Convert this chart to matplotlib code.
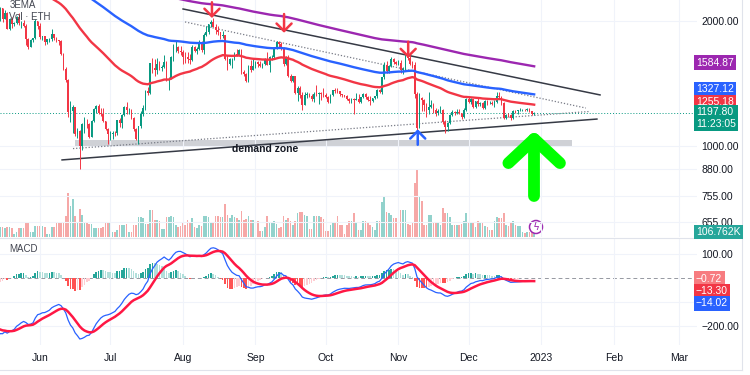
import numpy as np
import matplotlib
matplotlib.use("Agg")
import matplotlib.pyplot as plt
import matplotlib.dates as mdates
from matplotlib.ticker import FuncFormatter, NullLocator, NullFormatter
from matplotlib.patches import Ellipse
from matplotlib.lines import Line2D

plt.rcParams['font.family'] = ['Liberation Sans', 'DejaVu Sans']

# ETH daily candles 2022-05-14 .. 2022-12-29, open = previous close
first_day = '2022-05-14'
first_open = 2010
close = [
    2055, 2145, 2023, 2091, 1914, 2018, 1962, 1974, 2043, 1973, 1979, 1945, 1803, 1725, 1794, 1813, 1996, 1942,  # May
    1823, 1834, 1776, 1802, 1806, 1859, 1814, 1793, 1789, 1666, 1530, 1437, 1207, 1209, 1236, 1067, 1087, 996,
    1127, 1128, 1127, 1052, 1144, 1226, 1243, 1199, 1193, 1145, 1099, 1067,  # Jun
    1067, 1074, 1073, 1150, 1134, 1187, 1238, 1216, 1218, 1168, 1097, 1039, 1113, 1191, 1233, 1354, 1339, 1582,
    1542, 1521, 1577, 1537, 1551, 1594, 1439, 1450, 1637, 1725, 1733, 1695, 1679,  # Jul
    1634, 1632, 1618, 1607, 1733, 1693, 1705, 1778, 1702, 1852, 1880, 1959, 1981, 1935, 1901, 1876, 1834, 1847,
    1613, 1572, 1617, 1620, 1664, 1656, 1698, 1507, 1491, 1431, 1553, 1524, 1554,  # Aug
    1586, 1577, 1557, 1577, 1619, 1562, 1631, 1635, 1717, 1778, 1762, 1715, 1573, 1637, 1472, 1433, 1469, 1336,
    1377, 1324, 1252, 1327, 1328, 1317, 1294, 1335, 1330, 1336, 1335, 1328,  # Sep
    1311, 1276, 1323, 1362, 1352, 1351, 1331, 1322, 1317, 1292, 1281, 1296, 1289, 1297, 1275, 1307, 1332, 1310,
    1286, 1283, 1299, 1315, 1364, 1344, 1461, 1566, 1514, 1555, 1619, 1590, 1572,  # Oct
    1580, 1519, 1531, 1645, 1627, 1572, 1568, 1334, 1100, 1299, 1288, 1256, 1221, 1242, 1252, 1217, 1201, 1212,
    1219, 1142, 1109, 1136, 1184, 1203, 1199, 1206, 1196, 1170, 1217, 1297,  # Nov
    1275, 1294, 1241, 1280, 1259, 1270, 1231, 1281, 1264, 1265, 1263, 1275, 1319, 1309, 1266, 1166, 1186, 1184,
    1167, 1215, 1211, 1218, 1218, 1221, 1219, 1227, 1212, 1190, 1197.8,  # Dec
]
high = [
    2070, 2155, 2145, 2120, 2100, 2025, 2045, 1990, 2055, 2085, 2000, 2010, 1965, 1815, 1805, 1820, 2015, 2000,
    1970, 1840, 1840, 1810, 1820, 1915, 1860, 1830, 1800, 1795, 1670, 1545, 1450, 1280, 1250, 1240, 1100, 1090,
    1135, 1170, 1160, 1135, 1150, 1230, 1250, 1260, 1235, 1230, 1145, 1100,
    1085, 1085, 1085, 1155, 1165, 1195, 1245, 1275, 1235, 1225, 1170, 1100, 1115, 1210, 1250, 1360, 1385, 1585,
    1625, 1620, 1630, 1600, 1560, 1650, 1600, 1460, 1645, 1760, 1785, 1740, 1740,
    1700, 1680, 1680, 1665, 1750, 1740, 1725, 1800, 1790, 1870, 1940, 1965, 2010, 2030, 1960, 1945, 1880, 1890,
    1850, 1650, 1630, 1630, 1680, 1710, 1710, 1705, 1525, 1500, 1560, 1605, 1615,
    1600, 1600, 1595, 1580, 1625, 1685, 1645, 1655, 1730, 1790, 1785, 1775, 1725, 1645, 1650, 1490, 1475, 1475,
    1395, 1390, 1345, 1350, 1345, 1340, 1330, 1345, 1400, 1350, 1345, 1375,
    1340, 1315, 1330, 1365, 1380, 1380, 1355, 1335, 1325, 1325, 1300, 1300, 1300, 1340, 1330, 1310, 1340, 1340,
    1315, 1315, 1305, 1320, 1370, 1370, 1465, 1590, 1595, 1560, 1635, 1625, 1600,
    1605, 1610, 1550, 1660, 1680, 1650, 1600, 1590, 1350, 1340, 1310, 1295, 1270, 1345, 1290, 1265, 1235, 1225,
    1245, 1225, 1150, 1140, 1190, 1220, 1215, 1228, 1225, 1200, 1230, 1305,
    1310, 1300, 1295, 1282, 1300, 1275, 1275, 1285, 1290, 1280, 1280, 1285, 1345, 1350, 1320, 1275, 1190, 1200,
    1195, 1220, 1220, 1220, 1230, 1225, 1225, 1235, 1230, 1215, 1205,
]
low = [
    1950, 2000, 1990, 2015, 1905, 1900, 1920, 1940, 1960, 1955, 1925, 1930, 1750, 1705, 1725, 1775, 1810, 1915,
    1805, 1795, 1745, 1760, 1780, 1790, 1800, 1780, 1745, 1655, 1520, 1425, 1175, 1140, 1070, 1055, 1045, 880,
    975, 1070, 1100, 1045, 1050, 1140, 1200, 1190, 1180, 1140, 1090, 1010,
    1030, 1040, 1055, 1060, 1110, 1100, 1180, 1190, 1195, 1160, 1085, 1030, 1010, 1100, 1180, 1220, 1325, 1330,
    1500, 1470, 1490, 1520, 1510, 1540, 1430, 1360, 1450, 1600, 1680, 1675, 1655,
    1575, 1580, 1585, 1575, 1600, 1680, 1665, 1700, 1685, 1660, 1840, 1860, 1930, 1930, 1860, 1845, 1810, 1820,
    1605, 1525, 1560, 1540, 1605, 1640, 1650, 1490, 1470, 1425, 1420, 1505, 1520,
    1540, 1545, 1550, 1540, 1565, 1560, 1505, 1610, 1630, 1710, 1720, 1700, 1555, 1560, 1460, 1420, 1425, 1330,
    1280, 1300, 1220, 1250, 1305, 1310, 1280, 1275, 1320, 1260, 1290, 1310,
    1305, 1270, 1265, 1320, 1340, 1340, 1320, 1310, 1310, 1285, 1270, 1270, 1190, 1285, 1265, 1270, 1300, 1295,
    1280, 1255, 1275, 1295, 1305, 1340, 1335, 1450, 1495, 1500, 1550, 1575, 1560,
    1560, 1500, 1490, 1525, 1610, 1560, 1540, 1305, 1075, 1100, 1215, 1215, 1175, 1195, 1230, 1200, 1180, 1185,
    1200, 1130, 1075, 1085, 1130, 1180, 1185, 1190, 1190, 1160, 1165, 1215,
    1265, 1260, 1235, 1235, 1245, 1245, 1225, 1225, 1255, 1260, 1255, 1240, 1270, 1300, 1255, 1160, 1160, 1175,
    1155, 1160, 1200, 1195, 1210, 1215, 1215, 1215, 1205, 1185, 1185,
]
volume_k = [
    200, 195, 200, 190, 200, 195, 180, 70, 100, 190, 185, 190, 310, 310, 100, 100, 230, 230,
    230, 230, 200, 70, 70, 200, 200, 290, 290, 290, 300, 420, 880, 625, 760, 420, 310, 555,
    450, 280, 280, 270, 270, 180, 185, 180, 190, 200, 310, 310,
    310, 100, 100, 150, 250, 250, 250, 260, 100, 100, 240, 240, 400, 400, 380, 260, 260, 540,
    540, 350, 350, 330, 160, 160, 400, 400, 420, 400, 250, 200, 220,
    300, 250, 340, 300, 380, 200, 190, 250, 220, 430, 430, 400, 280, 280, 420, 420, 400, 410,
    670, 450, 380, 440, 400, 380, 350, 520, 350, 360, 420, 350, 340,
    340, 330, 120, 120, 200, 420, 300, 300, 330, 260, 180, 200, 420, 340, 380, 330, 250, 330,
    480, 500, 500, 450, 420, 170, 170, 430, 430, 420, 400, 360,
    120, 120, 240, 300, 290, 420, 250, 250, 70, 250, 330, 330, 490, 300, 150, 150, 330, 330,
    300, 250, 200, 150, 330, 330, 700, 800, 500, 480, 450, 380, 380,
    380, 540, 540, 540, 260, 240, 300, 1075, 1340, 830, 730, 240, 240, 450, 450, 300, 300, 280,
    240, 590, 480, 480, 400, 250, 250, 250, 250, 260, 330, 490,
    300, 300, 280, 200, 320, 300, 300, 230, 210, 150, 150, 330, 400, 380, 380, 490, 250, 220,
    280, 330, 250, 220, 220, 100, 90, 100, 110, 200, 106.762,
]

# indicator states just before the first candle
ema_seed = {50: 2850, 100: 3100, 200: 3200}
macd_seed = (2300, 2540, -204)  # ema12, ema26, signal

price_ticks = [655, 755, 880, 1000, 2000]
macd_ticks = [-200, 100]
month_ticks = ['2022-06-01', '2022-07-01', '2022-08-01', '2022-09-01', '2022-10-01',
               '2022-11-01', '2022-12-01', '2023-01-01', '2023-02-01', '2023-03-01']
month_labels = ['Jun', 'Jul', 'Aug', 'Sep', 'Oct', 'Nov', 'Dec', '2023', 'Feb', 'Mar']

# drawings on the chart: (date, price)
trend_solid = [(('2022-08-01T02', 2134), ('2023-01-26T03', 1325)),
               (('2022-06-10T10', 924), ('2023-01-24T19', 1159))]
trend_dotted = [(('2022-08-01T22', 1986), ('2023-01-20T02', 1232)),
                (('2022-06-15T02', 984), ('2023-01-21T19', 1209))]
demand_zone = ('2022-06-15T22', '2023-01-14T05', 990, 1030)
down_arrows = [('2022-08-13T10', 2215, 2030), ('2022-09-13T05', 2075, 1870), ('2022-11-05T05', 1780, 1625)]
up_arrow = ('2022-11-09T07', 1005, 1095)
green_arrow = [('2022-12-18', 908), ('2022-12-29', 1038), ('2023-01-09', 908)]
green_shaft_bottom = 758

GREEN, RED = '#089981', '#F23645'


def num(s):
    return mdates.date2num(np.datetime64(s))


def ema(values, seed, n):
    k = 2.0 / (n + 1)
    out, e = [], seed
    for v in values:
        e = e + k * (v - e)
        out.append(e)
    return np.array(out)


c = np.array(close, dtype=float)
o = np.concatenate([[first_open], c[:-1]])
h = np.maximum(np.array(high, dtype=float), np.maximum(o, c))
lo = np.minimum(np.array(low, dtype=float), np.minimum(o, c))
vol = np.array(volume_k, dtype=float)
dates = np.arange(np.datetime64(first_day), np.datetime64(first_day) + len(c))
x = mdates.date2num(dates)
up = c >= o
col = np.where(up, GREEN, RED)

macd = ema(c, macd_seed[0], 12) - ema(c, macd_seed[1], 26)
signal = ema(macd, macd_seed[2], 9)
hist = macd - signal
prev = np.concatenate([[hist[0]], hist[:-1]])
hcol = np.where(hist >= 0, np.where(hist >= prev, '#26A69A', '#B2DFDB'),
                np.where(hist < prev, '#FF5252', '#FFCDD2'))

W, H = 750, 375
fig = plt.figure(figsize=(7.5, 3.75), dpi=100)
ax = fig.add_axes([0, 1 - 237 / H, 697 / W, 237 / H])
axm = fig.add_axes([0, 1 - 345 / H, 697 / W, 107 / H], sharex=ax)
axv = ax.twinx()
ax.set_zorder(axv.get_zorder() + 1)
ax.patch.set_visible(False)

jun1 = num('2022-06-01')
ax.set_xlim(jun1 - 40 / 2.342, jun1 + 657 / 2.342)

# volume
axv.bar(x, vol, width=0.7, color=np.where(up, '#26A69A', '#EF5350'), alpha=0.5, lw=0)
axv.set_ylim(0, 237 * 20)
axv.axis('off')

# price pane
ax.set_yscale('log')
ax.set_ylim(602.6, 2243)
ax.set_yticks(price_ticks)
ax.yaxis.set_minor_locator(NullLocator())
ax.yaxis.set_minor_formatter(NullFormatter())
ax.yaxis.set_major_formatter(FuncFormatter(lambda v, p: f'{v:.2f}'))
ax.yaxis.tick_right()
ax.tick_params(axis='y', length=0, pad=3, labelsize=7.5, labelcolor='#131722')
ax.set_xticks([num(m) for m in month_ticks])
ax.tick_params(axis='x', length=0, labelbottom=False)
ax.grid(True, color='#f0f3fa', lw=0.8, zorder=0)
for s in ax.spines.values():
    s.set_visible(False)

z0, z1, zlo, zhi = demand_zone
ax.fill_between([num(z0), num(z1)], zlo, zhi, color='#cfd1d6', lw=0, zorder=1)
ax.text(num('2022-08-22'), 982, 'demand zone', fontsize=7.5, fontweight='bold',
        color='#131722', va='center', ha='left', zorder=6)

for (d0, p0), (d1, p1) in trend_solid:
    ax.plot([num(d0), num(d1)], [p0, p1], color='#363a45', lw=1.1, zorder=2)
for (d0, p0), (d1, p1) in trend_dotted:
    ax.plot([num(d0), num(d1)], [p0, p1], color='#787b86', lw=0.9, ls=(0, (1, 1.5)), zorder=2)

ax.axhline(c[-1], color=GREEN, lw=0.7, ls=(0, (1, 2)), zorder=2)

ax.vlines(x, lo, h, colors=col, lw=0.7, zorder=3)
body = np.maximum(np.abs(c - o), c * 0.002)
ax.bar(x, body, bottom=np.minimum(o, c), width=0.7, color=col, lw=0, zorder=4)

ax.plot(x, ema(c, ema_seed[50], 50), color='#F23645', lw=1.7, zorder=5)
ax.plot(x, ema(c, ema_seed[100], 100), color='#2962FF', lw=1.7, zorder=5)
ax.plot(x, ema(c, ema_seed[200], 200), color='#9C27B0', lw=1.7, zorder=5)

arrow_style = '->,head_length=0.45,head_width=0.45'
for d, p_tail, p_tip in down_arrows:
    ax.annotate('', xy=(num(d), p_tip), xytext=(num(d), p_tail), zorder=7,
                arrowprops=dict(arrowstyle=arrow_style, color='#F23645', lw=1.8,
                                mutation_scale=12, shrinkA=0, shrinkB=0))
d, p_tail, p_tip = up_arrow
ax.annotate('', xy=(num(d), p_tip), xytext=(num(d), p_tail), zorder=7,
            arrowprops=dict(arrowstyle=arrow_style, color='#2962FF', lw=1.8,
                            mutation_scale=12, shrinkA=0, shrinkB=0))

gx = [num(d) for d, p in green_arrow]
gy = [p for d, p in green_arrow]
ax.plot(gx, gy, color='#00FF00', lw=8.5, solid_capstyle='round', solid_joinstyle='round', zorder=7)
ax.plot([gx[1], gx[1]], [gy[1], green_shaft_bottom], color='#00FF00', lw=8.5,
        solid_capstyle='round', zorder=7)

# MACD pane
axm.bar(x, hist, width=0.7, color=hcol, lw=0, zorder=2)
axm.plot(x, macd, color='#2962FF', lw=0.9, zorder=3)
axm.plot(x, signal, color='#FF1744', lw=1.8, zorder=4)
axm.axhline(0, color='#9598a1', lw=0.7, ls=(0, (4, 3)), zorder=1)
axm.axhline(-100, color='#f0f3fa', lw=0.8, zorder=0)
axm.set_ylim(-280.8, 167)
axm.set_yticks(macd_ticks)
axm.yaxis.set_major_formatter(FuncFormatter(lambda v, p: f'{v:.2f}'.replace('-', '\u2212')))
axm.yaxis.tick_right()
axm.tick_params(axis='y', length=0, pad=3, labelsize=7.5, labelcolor='#131722')
axm.set_xticks([num(m) for m in month_ticks])
axm.set_xticklabels(month_labels)
axm.tick_params(axis='x', length=0, pad=6, labelsize=7.5, labelcolor='#131722')
axm.grid(True, color='#f0f3fa', lw=0.8, zorder=0)
for s in axm.spines.values():
    s.set_visible(False)
axm.spines['top'].set_visible(True)
axm.spines['top'].set_color('#e0e3eb')


def fx(px):
    return px / W


def fy(py):
    return 1 - py / H


# pane titles
fig.text(fx(10), fy(5), '3EMA', fontsize=7, color='#434651', va='center')
fig.text(fx(9), fy(16.5), 'Vol · ETH', fontsize=7, color='#434651', va='center')
fig.text(fx(9), fy(248.5), 'MACD', fontsize=7, color='#434651', va='center')

# price scale tags
tags = [('1584.87', 62.5, '#9C27B0'), ('1327.12', 89.5, '#2962FF'), ('1255.18', 102, '#F23645'),
        ('1197.80\n11:23:05', 118, GREEN), ('106.762K', 232, '#26A69A'),
        ('\u22120.72', 278.5, '#F77C80'), ('\u221213.30', 291, '#F23645'), ('\u221214.02', 303.5, '#2962FF')]
for txt, py, fc in tags:
    fig.text(fx(696), fy(py), txt, fontsize=7.5, color='white', va='center', ha='left',
             linespacing=1.2, bbox=dict(boxstyle='square,pad=0.22', fc=fc, ec='none'))

# lightning badge
fig.add_artist(Ellipse((fx(536), fy(227)), 13 / W, 13 / H, transform=fig.transFigure,
                       fc='white', ec='#9C27B0', lw=1.1))
fig.text(fx(536), fy(227), '\u03df', fontsize=7, color='#9C27B0', ha='center', va='center')

# frame
fig.add_artist(Line2D([fx(742), fx(742)], [fy(0), fy(370)], transform=fig.transFigure, color='#e0e3eb', lw=0.8))
fig.add_artist(Line2D([0, fx(742)], [fy(370), fy(370)], transform=fig.transFigure, color='#e0e3eb', lw=0.8))

fig.savefig('out.png', dpi=100)
